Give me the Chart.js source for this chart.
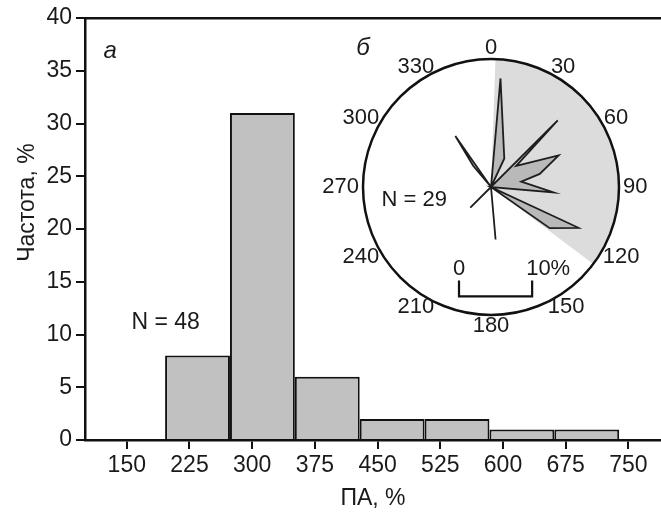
<!DOCTYPE html>
<html><head><meta charset="utf-8">
<script src="https://cdn.jsdelivr.net/npm/chart.js@4.4.1/dist/chart.umd.min.js"></script>
<style>
html,body{margin:0;padding:0;background:#fff;}
#wrap{position:relative;width:661px;height:512px;background:#fff;}
canvas{position:absolute;left:0;top:0;}
</style></head><body>
<div id="wrap">
<canvas id="hist" width="661" height="512"></canvas>
<canvas id="sector" width="661" height="512"></canvas>
<canvas id="rose" width="661" height="512"></canvas>
</div>
<script>
// ---- Histogram (а) ----
const binCenters = [234.6, 312.2, 389.8, 467.4, 545.0, 622.6, 700.2];
const frequency  = [8, 31, 6, 2, 2, 1, 1];
const xTickValues = [150, 225, 300, 375, 450, 525, 600, 675, 750];
const xRange = [100, 789];
const yRange = [0, 40];
const yStep = 5;
const xTitle = 'ПА, %';
const yTitle = 'Частота, %';
const histNote = 'N = 48';
const histNotePos = [196.4, 11.1];
const panelA = 'а';
const panelAPos = [130, 36.8];
const yTitleValue = 22.5;

// ---- Rose diagram (б) ----
const roseAngles = [0,5,10,15,20,25,30,35,40,45,50,55,60,65,70,75,80,85,90,95,100,105,110,115,120,125,130,135,140,145,150,155,160,165,170,175,180,185,190,195,200,205,210,215,220,225,230,235,240,245,250,255,260,265,270,275,280,285,290,295,300,305,310,315,320,325,330,335,340,345,350,355];
const roseValues = [
  0, 14.9, null, null, null, 4.3, null, 0, null, 12.9, 4.5, null,
  null, 10.2, null, 6.9, 4.2, null, null, 8.6, null, 0, null, 13.2,
  null, 9.8, null, 0, null, null, null, null, null, null, 0, 7.2,
  0, null, null, null, null, null, null, null, 0, 4.0, 0, null,
  null, null, null, null, null, null, null, null, null, null, null, null,
  null, null, null, 0, 3.8, 8.5, 0, null, null, null, null, null
];
const roseMax = 17.5;
const angleLabels = [0, 30, 60, 90, 120, 150, 180, 210, 240, 270, 300, 330];
const sectorSpan = [125, 235];
const sectorStart = 2;
const scaleBarValue = 10;
const roseNote = 'N = 29';
const panelB = 'б';

const FONT = '"Liberation Sans", Arial, Helvetica, sans-serif';
const TXT = '#1a1a1a';
const LINE = '#111';
const FS = 23;
Chart.defaults.font.family = FONT;
Chart.defaults.color = TXT;

const annotHist = {
  id: 'annotHist',
  afterDraw(chart) {
    const {ctx, scales: {x, y}} = chart;
    ctx.save();
    ctx.fillStyle = TXT;
    ctx.textAlign = 'center';
    ctx.textBaseline = 'middle';
    ctx.font = FS + 'px ' + FONT;
    ctx.fillText(histNote, x.getPixelForValue(histNotePos[0]), y.getPixelForValue(histNotePos[1]));
    // y axis title
    ctx.save();
    ctx.translate(x.left - 57, y.getPixelForValue(yTitleValue));
    ctx.rotate(-Math.PI / 2);
    ctx.fillText(yTitle, 0, 0);
    ctx.restore();
    ctx.font = 'italic 24px ' + FONT;
    ctx.fillText(panelA, x.getPixelForValue(panelAPos[0]), y.getPixelForValue(panelAPos[1]));
    ctx.restore();
  }
};

const axisFont = {size: FS, family: FONT};

new Chart(document.getElementById('hist'), {
  type: 'bar',
  data: {
    datasets: [{
      data: binCenters.map((c, i) => ({x: c, y: frequency[i]})),
      backgroundColor: '#c1c1c1',
      borderColor: LINE,
      borderWidth: 2,
      borderSkipped: 'start',
      // bins are slightly wider than the tick step
      barPercentage: (binCenters[1] - binCenters[0]) / (xTickValues[1] - xTickValues[0]),
      categoryPercentage: 1
    }]
  },
  options: {
    responsive: false,
    animation: false,
    events: [],
    layout: {padding: 0},
    plugins: {legend: {display: false}, tooltip: {enabled: false}},
    scales: {
      x: {
        type: 'linear',
        position: 'bottom',
        min: xRange[0], max: xRange[1],
        offset: false,
        afterBuildTicks: s => { s.ticks = xTickValues.map(v => ({value: v})); },
        afterFit: s => { s.height = 72; },
        grid: {drawOnChartArea: false, drawTicks: true, tickLength: 9, color: LINE, lineWidth: 2, offset: false},
        border: {display: true, color: LINE, width: 2.5},
        ticks: {font: axisFont, color: TXT, padding: 3, maxRotation: 0, autoSkip: false},
        title: {display: true, text: xTitle, font: axisFont, color: TXT, padding: {top: 0, bottom: 0}}
      },
      xTop: {
        type: 'linear',
        position: 'top',
        display: true,
        min: xRange[0], max: xRange[1],
        afterFit: s => { s.height = 18; },
        grid: {display: true, drawOnChartArea: false, drawTicks: false},
        border: {display: true, color: LINE, width: 2.5},
        ticks: {display: false}
      },
      y: {
        min: yRange[0], max: yRange[1],
        afterFit: s => { s.width = 85; },
        ticks: {stepSize: yStep, font: axisFont, color: TXT, padding: 4},
        grid: {drawOnChartArea: false, drawTicks: true, tickLength: 9, color: LINE, lineWidth: 2},
        border: {display: true, color: LINE, width: 2.5}
      }
    }
  },
  plugins: [annotHist]
});

// rose panel area: circle centred in this box
const rosePad = {left: 363, top: 59, right: 42, bottom: 197};

new Chart(document.getElementById('sector'), {
  type: 'pie',
  data: {
    datasets: [{
      data: sectorSpan,
      backgroundColor: ['#dcdcdc', 'rgba(0,0,0,0)'],
      borderWidth: 0,
      offset: 0,
      hoverOffset: 0
    }]
  },
  options: {
    responsive: false,
    animation: false,
    events: [],
    rotation: sectorStart,
    layout: {padding: rosePad},
    plugins: {legend: {display: false}, tooltip: {enabled: false}}
  }
});

const roseText = {
  id: 'roseText',
  afterDraw(chart) {
    const s = chart.scales.r;
    const ctx = chart.ctx;
    const R = s.drawingArea, cx = s.xCenter, cy = s.yCenter;
    ctx.save();
    ctx.fillStyle = TXT;
    ctx.strokeStyle = LINE;
    ctx.font = '22px ' + FONT;
    ctx.textAlign = 'center';
    ctx.textBaseline = 'middle';
    angleLabels.forEach(a => {
      const idx = roseAngles.indexOf(a);
      const p = s.getPointPosition(idx, R + 4);
      const t = String(a);
      const w = ctx.measureText(t).width;
      const th = a * Math.PI / 180;
      ctx.fillText(t, p.x + Math.sin(th) * w / 2, p.y - Math.cos(th) * 7);
    });
    ctx.fillText(roseNote, cx - 0.6 * R, cy + 0.1 * R);
    // scale bar
    const len = s.getDistanceFromCenterForValue(scaleBarValue);
    const x0 = cx - 0.25 * R, y0 = cy + 0.855 * R;
    ctx.lineWidth = 2.2;
    ctx.beginPath();
    ctx.moveTo(x0, y0 - 16); ctx.lineTo(x0, y0); ctx.lineTo(x0 + len, y0); ctx.lineTo(x0 + len, y0 - 16);
    ctx.stroke();
    ctx.fillText('0', x0, y0 - 28);
    ctx.textAlign = 'left';
    ctx.fillText(scaleBarValue + '%', x0 + len - 6, y0 - 28);
    ctx.textAlign = 'center';
    ctx.font = 'italic 24px ' + FONT;
    ctx.fillText(panelB, cx - 1.0 * R, cy - 1.08 * R);
    ctx.restore();
  }
};

new Chart(document.getElementById('rose'), {
  type: 'radar',
  data: {
    labels: roseAngles,
    datasets: [{
      data: roseValues,
      spanGaps: true,
      fill: 'origin',
      backgroundColor: '#b9b9b9',
      borderColor: '#1e1e1e',
      borderWidth: 1.8,
      pointRadius: 0,
      tension: 0
    }]
  },
  options: {
    responsive: false,
    animation: false,
    events: [],
    layout: {padding: rosePad},
    plugins: {legend: {display: false}, tooltip: {enabled: false}},
    scales: {
      r: {
        min: 0, max: roseMax,
        startAngle: 0,
        afterBuildTicks: s => { s.ticks = [{value: 0}, {value: roseMax}]; },
        ticks: {display: false},
        pointLabels: {display: false},
        angleLines: {display: false},
        grid: {circular: true, color: LINE, lineWidth: 2.5}
      }
    }
  },
  plugins: [roseText]
});
</script>
</body></html>
